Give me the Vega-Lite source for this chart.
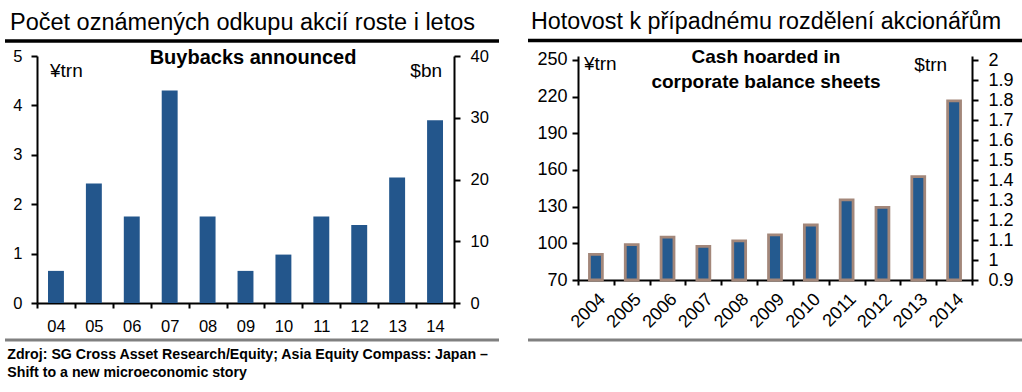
{
  "$schema": "https://vega.github.io/schema/vega-lite/v6.json",
  "background": "white",
  "padding": {"left": 3, "top": 10, "right": 0, "bottom": 0},
  "spacing": 25,
  "config": {
    "view": {"stroke": null},
    "font": "Liberation Sans",
    "axis": {
      "domainColor": "black", "domainWidth": 2, "tickColor": "black", "tickWidth": 2,
      "labelColor": "black", "labelFontSize": 16.5, "labelFont": "Liberation Sans",
      "grid": false, "title": null, "labelOverlap": false
    }
  },
  "title": {
    "text": ["Zdroj: SG Cross Asset Research/Equity; Asia Equity Compass: Japan –", "Shift to a new microeconomic story"],
    "orient": "bottom", "anchor": "start", "dx": 4, "offset": 6, "baseline": "top",
    "fontSize": 14.2, "fontWeight": "bold", "font": "Liberation Sans", "color": "black", "lineHeight": 18
  },
  "hconcat": [
    {
      "width": 417, "height": 247,
      "title": {"text": "Počet oznámených odkupu akcií roste i letos", "anchor": "start", "frame": "group", "dx": -27, "fontSize": 23.5, "fontWeight": "normal", "font": "Liberation Sans", "color": "black", "baseline": "alphabetic", "offset": -14},
      "data": {"values": [
        {"year": "04", "yen": 0.65}, {"year": "05", "yen": 2.42}, {"year": "06", "yen": 1.75},
        {"year": "07", "yen": 4.3}, {"year": "08", "yen": 1.75}, {"year": "09", "yen": 0.65},
        {"year": "10", "yen": 0.98}, {"year": "11", "yen": 1.75}, {"year": "12", "yen": 1.58},
        {"year": "13", "yen": 2.54}, {"year": "14", "yen": 3.7}
      ]},
      "layer": [
        {"layer": [
          {"mark": {"type": "bar", "width": {"band": 0.42}, "fill": "#23568C"},
           "encoding": {
             "x": {"field": "year", "type": "ordinal", "scale": {"paddingInner": 0, "paddingOuter": 0},
                   "axis": {"tickBand": "extent", "tickSize": 5, "labelPadding": 10, "labelAngle": 0}},
             "y": {"field": "yen", "type": "quantitative", "scale": {"domain": [0, 5]},
                   "axis": {"orient": "left", "values": [0, 1, 2, 3, 4, 5], "tickCount": 12, "format": ".0f", "tickSize": 6, "labelPadding": 9, "labelOverlap": false}}
           }},
          {"data": {"values": [{}]},
           "mark": {"type": "text", "align": "left", "baseline": "middle", "dx": -6, "dy": 15, "fontSize": 19, "color": "black"},
           "encoding": {"x": {"datum": "04", "type": "ordinal"}, "y": {"datum": 5, "type": "quantitative"}, "text": {"value": "¥trn"}}},
          {"data": {"values": [{}]},
           "mark": {"type": "text", "align": "center", "baseline": "middle", "dx": 7.5, "dy": 2, "fontSize": 20, "fontWeight": "bold", "color": "black"},
           "encoding": {"x": {"datum": "09", "type": "ordinal"}, "y": {"datum": 5, "type": "quantitative"}, "text": {"value": "Buybacks announced"}}}
        ]},
        {"data": {"values": [{}]},
         "mark": {"type": "text", "align": "right", "baseline": "middle", "dx": 7, "dy": 15, "fontSize": 19, "color": "black"},
         "encoding": {
           "x": {"datum": "14", "type": "ordinal"},
           "y": {"datum": 40, "type": "quantitative", "scale": {"domain": [0, 40]},
                 "axis": {"orient": "right", "values": [0, 10, 20, 30, 40], "tickCount": 12, "format": ".0f", "tickSize": 6, "labelPadding": 10, "labelOverlap": false}},
           "text": {"value": "$bn"}
         }},
        {"data": {"values": [{}]},
         "mark": {"type": "rule", "color": "black", "strokeWidth": 3.5},
         "encoding": {"x": {"value": -32}, "x2": {"value": 462}, "y": {"value": -15}}},
        {"data": {"values": [{}]},
         "mark": {"type": "rule", "color": "#808080", "strokeWidth": 3},
         "encoding": {"x": {"value": -32}, "x2": {"value": 462}, "y": {"value": 284}}}
      ],
      "resolve": {"scale": {"y": "independent"}}
    },
    {
      "width": 394, "height": 224,
      "title": {"text": "Hotovost k případnému rozdělení akcionářům", "anchor": "start", "frame": "group", "dx": -47, "fontSize": 23.3, "fontWeight": "normal", "font": "Liberation Sans", "color": "black", "baseline": "alphabetic", "offset": -14},
      "data": {"values": [
        {"year": "2004", "yen": 91}, {"year": "2005", "yen": 99}, {"year": "2006", "yen": 105},
        {"year": "2007", "yen": 97.5}, {"year": "2008", "yen": 102}, {"year": "2009", "yen": 107},
        {"year": "2010", "yen": 115}, {"year": "2011", "yen": 135.5}, {"year": "2012", "yen": 129.5},
        {"year": "2013", "yen": 154.5}, {"year": "2014", "yen": 216.5}
      ]},
      "layer": [
        {"layer": [
          {"mark": {"type": "bar", "width": {"band": 0.36}, "fill": "#245A8F", "stroke": "#A3877A", "strokeWidth": 2.8},
           "encoding": {
             "x": {"field": "year", "type": "ordinal", "scale": {"paddingInner": 0, "paddingOuter": 0},
                   "axis": {"tickBand": "extent", "tickSize": 5, "labelPadding": 5, "labelAngle": -45, "labelAlign": "right", "labelBaseline": "top", "labelFontSize": 18}},
             "y": {"field": "yen", "type": "quantitative", "scale": {"domain": [70, 253.27], "zero": false, "nice": false},
                   "axis": {"orient": "left", "values": [70, 100, 130, 160, 190, 220, 250], "tickCount": 12, "format": ".0f", "tickSize": 6, "labelPadding": 5, "labelOverlap": false, "labelFontSize": 18}},
             "y2": {"datum": 70}
           }},
          {"data": {"values": [{}]},
           "mark": {"type": "text", "align": "left", "baseline": "middle", "dx": -12, "dy": 4.5, "fontSize": 19, "color": "black"},
           "encoding": {"x": {"datum": "2004", "type": "ordinal"}, "y": {"datum": 250, "type": "quantitative"}, "text": {"value": "¥trn"}}},
          {"data": {"values": [{}]},
           "mark": {"type": "text", "align": "center", "baseline": "middle", "dx": -9, "dy": -3, "fontSize": 19, "fontWeight": "bold", "color": "black", "lineHeight": 25},
           "encoding": {"x": {"datum": "2009", "type": "ordinal"}, "y": {"datum": 250, "type": "quantitative"}, "text": {"value": ["Cash hoarded in", "corporate balance sheets"]}}}
        ]},
        {"data": {"values": [{}]},
         "mark": {"type": "text", "align": "right", "baseline": "middle", "dx": -7, "dy": 4.5, "fontSize": 19, "color": "black"},
         "encoding": {
           "x": {"datum": "2014", "type": "ordinal"},
           "y": {"datum": 2, "type": "quantitative", "scale": {"domain": [0.9, 2.02], "zero": false, "nice": false},
                 "axis": {"orient": "right", "values": [0.9, 1, 1.1, 1.2, 1.3, 1.4, 1.5, 1.6, 1.7, 1.8, 1.9, 2], "tickCount": 24, "format": ".1~f", "tickSize": 6, "labelPadding": 10, "labelOverlap": false, "labelFontSize": 18}},
           "text": {"value": "$trn"}
         }},
        {"data": {"values": [{}]},
         "mark": {"type": "rule", "color": "black", "strokeWidth": 3.5},
         "encoding": {"x": {"value": -50}, "x2": {"value": 450}, "y": {"value": -15.5}}},
        {"data": {"values": [{}]},
         "mark": {"type": "rule", "color": "#808080", "strokeWidth": 3},
         "encoding": {"x": {"value": -50}, "x2": {"value": 450}, "y": {"value": 284}}}
      ],
      "resolve": {"scale": {"y": "independent"}}
    }
  ]
}
